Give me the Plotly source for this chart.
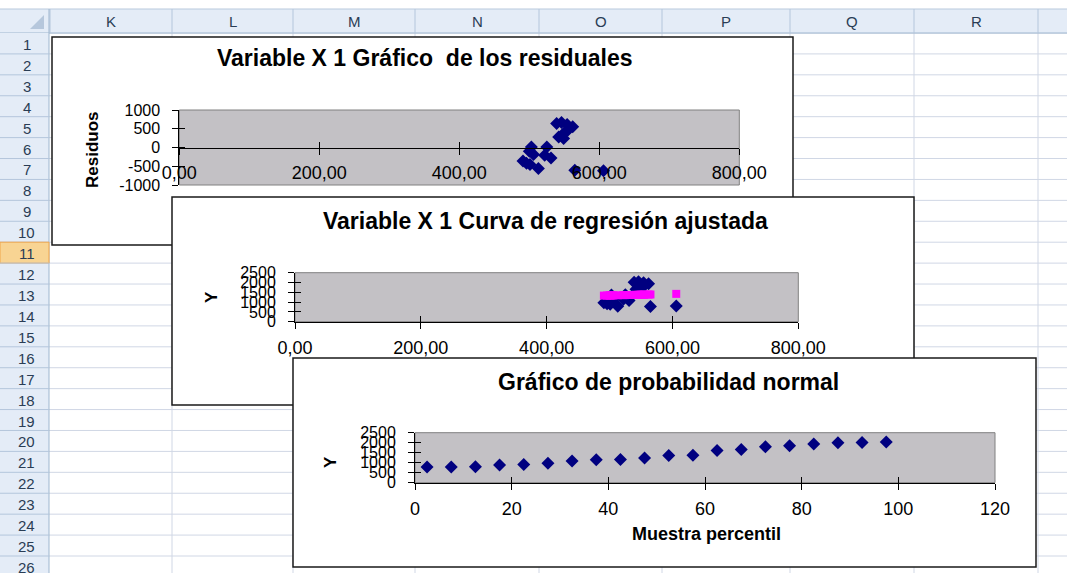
import plotly.graph_objects as go

W, H = 1067, 573

# ---- spreadsheet frame ----
COLUMN_LETTERS = ["K", "L", "M", "N", "O", "P", "Q", "R"]
ROW_NUMBERS = list(range(1, 27))
SELECTED_ROW = 11

# ---- Variable X 1 : observations, fitted values ----
x_var = [539, 546, 554, 562, 551, 555, 542, 549, 503, 500,
         506, 525, 522, 531, 491, 496, 501, 513, 565, 606]
y_obs = [2008, 2041, 1993, 1941, 1794, 1842, 1654, 1616, 1356, 1239,
         1156, 1373, 1150, 1085, 971, 915, 889, 788, 780, 800]
y_pred = [1368, 1374, 1380, 1386, 1378, 1381, 1371, 1376, 1340, 1338,
          1343, 1357, 1355, 1362, 1331, 1335, 1339, 1348, 1388, 1420]
percentil = [2.5, 7.5, 12.5, 17.5, 22.5, 27.5, 32.5, 37.5, 42.5, 47.5,
             52.5, 57.5, 62.5, 67.5, 72.5, 77.5, 82.5, 87.5, 92.5, 97.5]

x_ticks = [0, 200, 400, 600, 800]
x_tick_text = ["0,00", "200,00", "400,00", "600,00", "800,00"]
res_ticks = [-1000, -500, 0, 500, 1000]
res_tick_text = ["-1000", "-500", "0", "500", "1000"]
y_ticks = [0, 500, 1000, 1500, 2000, 2500]
pct_ticks = [0, 20, 40, 60, 80, 100, 120]

residuos = [o - p for o, p in zip(y_obs, y_pred)]
y_sorted = sorted(y_obs)

# ---- geometry (pixels) ----
COL_EDGES = [50, 172, 293, 415, 539, 662, 790, 914, 1038]
HDR_TOP, HDR_BOT = 9, 33
ROW_H = 20.92
ROW_HDR_W = 49

BOX1 = (52, 37, 793, 245)
PLOT1 = (179.3, 110, 739.3, 185)
BOX2 = (172, 197, 914, 405)
PLOT2 = (295, 272.7, 798.3, 321.7)
BOX3 = (293, 358, 1036, 567)
PLOT3 = (415, 432.7, 995, 482.7)

FONT = "Liberation Sans, Arial, sans-serif"
NAVY = "#000080"
PLOT_GRAY = "#C3C1C5"
GRID = "#D0D7E5"
HDR_FILL = "#E4ECF7"
HDR_LINE = "#9EB6CE"


def fx(x):
    return x / W


def fy(y):
    return 1 - y / H


def rect(x0, y0, x1, y1, fill=None, line=None, width=1):
    return dict(type="rect", xref="paper", yref="paper", layer="below",
                x0=fx(x0), x1=fx(x1), y0=fy(y1), y1=fy(y0),
                fillcolor=fill or "rgba(0,0,0,0)",
                line=dict(color=line or "rgba(0,0,0,0)", width=width if line else 0))


def hline(x0, x1, y, color, width=1):
    return dict(type="line", xref="paper", yref="paper", layer="below",
                x0=fx(x0), x1=fx(x1), y0=fy(y), y1=fy(y),
                line=dict(color=color, width=width))


def vline(x, y0, y1, color, width=1):
    return dict(type="line", xref="paper", yref="paper", layer="below",
                x0=fx(x), x1=fx(x), y0=fy(y0), y1=fy(y1),
                line=dict(color=color, width=width))


def label(text, cx, cy, size, color="black", bold=False, angle=0):
    return dict(x=fx(cx), y=fy(cy), xref="paper", yref="paper",
                xanchor="center", yanchor="middle", showarrow=False, textangle=angle,
                text=("<b>" + text + "</b>") if bold else text,
                font=dict(family=FONT, size=size, color=color))


shapes = []
annotations = []

# sheet grid
n_rows = len(ROW_NUMBERS)
for i in range(n_rows + 1):
    shapes.append(hline(ROW_HDR_W, W, HDR_BOT + i * ROW_H, GRID))
for x in COL_EDGES[1:]:
    shapes.append(vline(x, HDR_BOT, H, GRID))

# column header band
shapes.append(rect(0, HDR_TOP, W, HDR_BOT, fill=HDR_FILL))
shapes.append(hline(0, W, HDR_TOP, "#B8C9DD"))
shapes.append(hline(0, W, HDR_BOT, HDR_LINE))
for x in COL_EDGES:
    shapes.append(vline(x, HDR_TOP, HDR_BOT, "#B4C6DC"))
for i, letter in enumerate(COLUMN_LETTERS):
    cx = (COL_EDGES[i] + COL_EDGES[i + 1]) / 2
    annotations.append(label(letter, cx, (HDR_TOP + HDR_BOT) / 2 + 1, 15, color="#2A3D55"))
# corner triangle
shapes.append(dict(type="path", xref="paper", yref="paper", layer="below",
                   path="M {} {} L {} {} L {} {} Z".format(fx(44), fy(15), fx(44), fy(29), fx(30), fy(29)),
                   fillcolor="#B6C7DC", line=dict(width=0)))

# row header column
shapes.append(rect(0, HDR_BOT, ROW_HDR_W, H, fill=HDR_FILL))
shapes.append(vline(ROW_HDR_W, HDR_TOP, H, HDR_LINE))
for i, r in enumerate(ROW_NUMBERS):
    top = HDR_BOT + i * ROW_H
    if r == SELECTED_ROW:
        shapes.append(rect(0, top, ROW_HDR_W, top + ROW_H, fill="#F8D493", line="#F0A54A"))
    shapes.append(hline(0, ROW_HDR_W, top + ROW_H, "#B4C6DC"))
    annotations.append(label(str(r), ROW_HDR_W / 2 + 2, top + ROW_H / 2 + 1, 15, color="#2A3D55"))

# chart objects: white frame then gray plot area, stacked in order
for box, plot in ((BOX1, PLOT1), (BOX2, PLOT2), (BOX3, PLOT3)):
    shapes.append(rect(*box, fill="white", line="#1A1A1A", width=1.5))
    shapes.append(rect(*plot, fill=PLOT_GRAY, line="#808080", width=1))

# chart and axis titles
annotations += [
    label("Variable X 1 Gráfico  de los residuales", 424, 58, 23, bold=True),
    label("Variable X 1 Curva de regresión ajustada", 545, 221, 23, bold=True),
    label("Gráfico de probabilidad normal", 668, 382, 23, bold=True),
    label("Residuos", 93, 150, 17, bold=True, angle=-90),
    label("Y", 211, 297, 17, bold=True, angle=-90),
    label("Y", 330, 462, 17, bold=True, angle=-90),
    label("Muestra percentil", 706, 534, 18, bold=True),
]

tick_x_font = dict(family=FONT, size=18, color="black")
tick_y_font = dict(family=FONT, size=16, color="black")

base = dict(showgrid=False, zeroline=False, showline=True, linecolor="black", linewidth=1,
            ticks="outside", ticklen=6, tickcolor="black", tickwidth=1, fixedrange=True,
            automargin=False)
inner = dict(showgrid=False, zeroline=False, showline=False, showticklabels=False,
             ticks="inside", ticklen=6, tickcolor="black", tickwidth=1, fixedrange=True,
             automargin=False)

x0_pos = fy((PLOT1[1] + PLOT1[3]) / 2)

layout = dict(
    template="none",
    width=W, height=H, margin=dict(l=0, r=0, t=0, b=0, pad=0, autoexpand=False),
    paper_bgcolor="white", plot_bgcolor="rgba(0,0,0,0)", showlegend=False,
    shapes=shapes, annotations=annotations,
    # chart 1 : residuals
    xaxis=dict(base, domain=[fx(PLOT1[0]), fx(PLOT1[2])], range=[0, 800], anchor="free", position=x0_pos,
               tickmode="array", tickvals=x_ticks, ticktext=x_tick_text, tickfont=tick_x_font,
               ticklabelstandoff=3),
    yaxis=dict(base, domain=[fy(PLOT1[3]), fy(PLOT1[1])], range=[-1000, 1000], anchor="x",
               tickmode="array", tickvals=res_ticks, ticktext=res_tick_text, tickfont=tick_y_font,
               ticklabelstandoff=9),
    # chart 2 : fitted curve
    xaxis2=dict(base, domain=[fx(PLOT2[0]), fx(PLOT2[2])], range=[0, 800], anchor="y2",
                tickmode="array", tickvals=x_ticks, ticktext=x_tick_text, tickfont=tick_x_font,
                ticklabelstandoff=4),
    yaxis2=dict(base, domain=[fy(PLOT2[3]), fy(PLOT2[1])], range=[0, 2500], anchor="x2",
                tickmode="array", tickvals=y_ticks, tickfont=tick_y_font, ticklabelstandoff=9),
    # chart 3 : normal probability
    xaxis3=dict(base, domain=[fx(PLOT3[0]), fx(PLOT3[2])], range=[0, 120], anchor="y3",
                tickmode="array", tickvals=pct_ticks, tickfont=tick_x_font, ticklabelstandoff=4),
    yaxis3=dict(base, domain=[fy(PLOT3[3]), fy(PLOT3[1])], range=[0, 2500], anchor="x3",
                tickmode="array", tickvals=y_ticks, tickfont=tick_y_font, ticklabelstandoff=9),
    # inward halves of the crossing tick marks
    xaxis4=dict(inner, overlaying="x", range=[0, 800], anchor="free", position=x0_pos,
                tickmode="array", tickvals=x_ticks),
    yaxis4=dict(inner, overlaying="y", range=[-1000, 1000], anchor="x4",
                tickmode="array", tickvals=res_ticks),
    xaxis5=dict(inner, overlaying="x2", range=[0, 800], anchor="y5",
                tickmode="array", tickvals=x_ticks),
    yaxis5=dict(inner, overlaying="y2", range=[0, 2500], anchor="x5",
                tickmode="array", tickvals=y_ticks),
    xaxis6=dict(inner, overlaying="x3", range=[0, 120], anchor="y6",
                tickmode="array", tickvals=pct_ticks),
    yaxis6=dict(inner, overlaying="y3", range=[0, 2500], anchor="x6",
                tickmode="array", tickvals=y_ticks),
)

diamond = dict(symbol="diamond", size=10, color=NAVY, line=dict(width=0))

traces = [
    go.Scatter(x=x_var, y=residuos, mode="markers", marker=diamond, xaxis="x", yaxis="y",
               cliponaxis=False, hoverinfo="skip"),
    go.Scatter(x=x_var, y=y_obs, mode="markers", marker=diamond, xaxis="x2", yaxis="y2",
               cliponaxis=False, hoverinfo="skip"),
    go.Scatter(x=x_var, y=y_pred, mode="markers",
               marker=dict(symbol="square", size=8, color="#FF00FF", line=dict(width=0)),
               xaxis="x2", yaxis="y2", cliponaxis=False, hoverinfo="skip"),
    go.Scatter(x=percentil, y=y_sorted, mode="markers", marker=diamond, xaxis="x3", yaxis="y3",
               cliponaxis=False, hoverinfo="skip"),
]
for xa, ya in (("x4", "y4"), ("x5", "y5"), ("x6", "y6")):
    traces.append(go.Scatter(x=[None], y=[None], mode="markers", xaxis=xa, yaxis=ya, hoverinfo="skip"))

fig = go.Figure(data=traces, layout=layout)
fig.write_html("out.html", config=dict(staticPlot=True))
